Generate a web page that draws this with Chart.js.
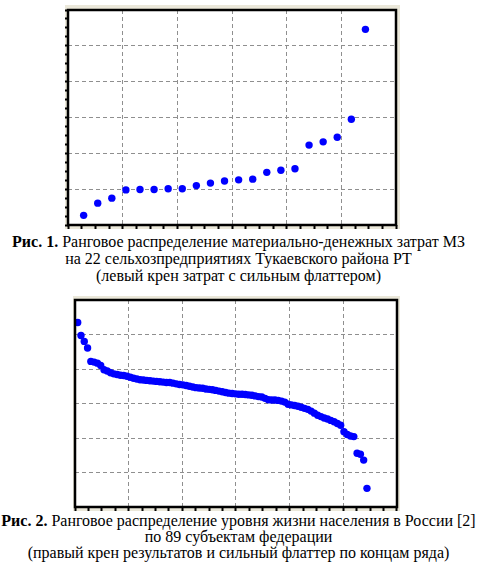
<!DOCTYPE html>
<html lang="ru">
<head>
<meta charset="UTF-8">
<title>Ранговое распределение</title>
<style>
  body { margin: 0; background: #fff; width: 477px; height: 571px; position: relative; overflow: hidden; }
  .box { position: absolute; background: #ebe8da; }
  .caption { position: absolute; left: 0; width: 477px; text-align: center; white-space: nowrap;
             font-family: "Liberation Serif", "DejaVu Serif", serif; font-size: 16px; color: #000; }
  .caption b { font-weight: bold; }
</style>
</head>
<body>
  <div class="box" id="box1" style="left:65px; top:5px; width:335px; height:224px;"><canvas id="chart1"></canvas></div>
  <div class="caption" style="top:233px; line-height:17px;">
    <b>Рис. 1.</b> Ранговое распределение материально-денежных затрат МЗ<br>
    на 22 сельхозпредприятиях Тукаевского района РТ<br>
    (левый крен затрат с сильным флаттером)
  </div>

  <div class="box" id="box2" style="left:73px; top:296px; width:327px; height:215px;"><canvas id="chart2"></canvas></div>
  <div class="caption" style="top:513px; line-height:16px;">
    <b>Рис. 2.</b> Ранговое распределение уровня жизни населения в России [2]<br>
    по 89 субъектам федерации<br>
    (правый крен результатов и сильный флаттер по концам ряда)
  </div>

<script src="https://cdn.jsdelivr.net/npm/chart.js"></script>
<script>
  // Рис. 1 - затраты МЗ по рангу хозяйства
  var ranks1 = [1, 2, 3, 4, 5, 6, 7, 8, 9, 10, 11, 12, 13, 14, 15, 16, 17, 18, 19, 20, 21];
  var costs1 = [0.27, 0.61, 0.75, 0.98, 0.99, 0.99, 1.01, 1.01, 1.10, 1.17, 1.23,
                1.26, 1.28, 1.47, 1.53, 1.57, 2.23, 2.32, 2.45, 2.95, 5.46];

  // Рис. 2 - уровень жизни по 89 субъектам
  var ranks2 = [1, 2, 3, 4, 5, 6, 7, 8, 9, 10, 11, 12, 13, 14, 15, 16, 17, 18, 19, 20,
                21, 22, 23, 24, 25, 26, 27, 28, 29, 30, 31, 32, 33, 34, 35, 36, 37, 38, 39, 40,
                41, 42, 43, 44, 45, 46, 47, 48, 49, 50, 51, 52, 53, 54, 55, 56, 57, 58, 59, 60,
                61, 62, 63, 64, 65, 66, 67, 68, 69, 70, 71, 72, 73, 74, 75, 76, 77, 78, 79, 80,
                81, 82, 83, 84, 85, 86, 87, 88, 89];
  var level2 = [5.35, 4.97, 4.80, 4.61, 4.22, 4.20, 4.17, 4.10, 3.98, 3.94,
                3.89, 3.86, 3.84, 3.82, 3.81, 3.79, 3.76, 3.73, 3.71, 3.69,
                3.68, 3.67, 3.66, 3.65, 3.64, 3.63, 3.62, 3.61, 3.61, 3.59,
                3.57, 3.55, 3.54, 3.52, 3.50, 3.48, 3.46, 3.45, 3.44, 3.42,
                3.41, 3.40, 3.38, 3.36, 3.34, 3.32, 3.30, 3.29, 3.28, 3.27,
                3.27, 3.26, 3.25, 3.24, 3.22, 3.20, 3.19, 3.15, 3.11, 3.10,
                3.10, 3.09, 3.07, 3.04, 2.98, 2.96, 2.94, 2.92, 2.89, 2.86,
                2.83, 2.78, 2.72, 2.66, 2.62, 2.58, 2.55, 2.51, 2.47, 2.42,
                2.37, 2.18, 2.10, 2.06, 2.04, 1.56, 1.53, 1.36, 0.54];

  var corGrade = '#8f8f8f';
  var corPonto = '#0000ff';

  // divide a escala em n partes iguais (marcas menores)
  function marcasIguais(n) {
    return function (scale) {
      var passo = (scale.max - scale.min) / n;
      var lista = [];
      for (var i = 0; i <= n; i++) lista.push({ value: scale.min + i * passo });
      scale.ticks = lista;
    };
  }

  // fundo branco da área e moldura preta
  var moldura = {
    id: 'moldura',
    beforeDraw: function (chart) {
      var a = chart.chartArea, ctx = chart.ctx;
      ctx.save();
      ctx.fillStyle = '#fff';
      ctx.fillRect(a.left, a.top, a.right - a.left, a.bottom - a.top);
      ctx.restore();
    },
    afterDraw: function (chart) {
      var a = chart.chartArea, ctx = chart.ctx;
      ctx.save();
      ctx.strokeStyle = '#000';
      ctx.lineWidth = 2.5;
      ctx.strokeRect(a.left, a.top, a.right - a.left, a.bottom - a.top);
      ctx.restore();
    }
  };

  function criarGrafico(id, xs, ys, xMin, xMax, xPartes, yPartes, yMarcas, padding) {
    var pontos = xs.map(function (x, i) { return { x: x, y: ys[i] }; });
    return new Chart(document.getElementById(id), {
      type: 'scatter',
      data: {
        datasets: [{
          data: pontos,
          backgroundColor: corPonto,
          borderColor: corPonto,
          borderWidth: 0,
          pointRadius: 3.7,
          pointHoverRadius: 3.7
        }]
      },
      options: {
        responsive: true,
        maintainAspectRatio: false,
        animation: false,
        events: [],
        layout: { padding: padding, autoPadding: false },
        plugins: { legend: { display: false }, tooltip: { enabled: false } },
        scales: {
          x: {
            type: 'linear',
            min: xMin,
            max: xMax,
            afterBuildTicks: marcasIguais(xPartes),
            ticks: { display: false },
            border: { display: false, dash: [4, 3] },
            grid: {
              color: function (c) { return c.index % 4 === 0 ? corGrade : 'rgba(0,0,0,0)'; },
              lineWidth: 1,
              drawTicks: true,
              tickLength: 4,
              tickWidth: 2,
              tickColor: '#000',
              tickBorderDash: [0, 0]
            }
          },
          y: {
            type: 'linear',
            min: 0,
            max: 6,
            afterBuildTicks: marcasIguais(yPartes),
            ticks: { display: false },
            border: { display: false, dash: [4, 3] },
            grid: {
              color: function (c) { return c.index % (yPartes / 6) === 0 ? corGrade : 'rgba(0,0,0,0)'; },
              lineWidth: 1,
              drawTicks: yMarcas,
              tickLength: 3,
              tickWidth: 2,
              tickColor: '#000',
              tickBorderDash: [0, 0]
            }
          }
        }
      },
      plugins: [moldura]
    });
  }

  criarGrafico('chart1', ranks1, costs1, -0.11, 23.17, 24, 24, true,
               { left: 0, top: 5, right: 4, bottom: 0 });
  criarGrafico('chart2', ranks2, level2, 0.18, 98.14, 24, 6, false,
               { left: 2, top: 4, right: 3, bottom: 0 });
</script>
</body>
</html>
